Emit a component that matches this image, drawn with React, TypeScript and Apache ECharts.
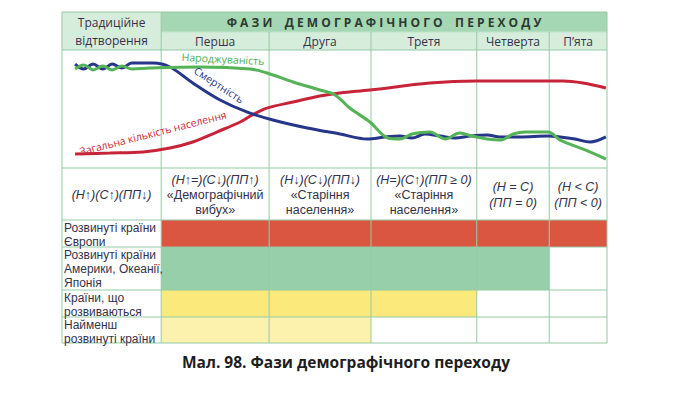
import React, { useEffect, useRef } from 'react';
import * as echarts from 'echarts';

// ---------- data ----------
const phaseNames = ['Перша', 'Друга', 'Третя', 'Четверта', 'П’ята'];
// time axis (0..100) boundaries: traditional reproduction, then phases 1..5
const phaseEdges = [0, 18.2, 38.0, 56.7, 76.1, 89.4, 100];

const birthRate: [number, number][] = [
  [2.4, 83.9], [4.0, 87.3], [5.7, 83.1], [7.5, 86.4], [9.2, 83.1], [11.0, 86.4], [12.8, 83.9],
  [16.1, 84.7], [25.3, 85.6], [34.5, 83.9], [37.6, 80.5], [42.4, 72.9], [47.3, 66.1], [50.1, 61.9],
  [52.8, 50.8], [56.5, 39.0], [59.8, 25.4], [62.0, 24.6], [64.2, 28.8], [67.5, 30.5], [70.3, 24.6],
  [73.0, 29.7], [75.2, 27.1], [78.0, 24.6], [80.4, 23.7], [82.8, 28.8], [85.0, 30.5], [89.2, 30.5],
  [91.4, 23.7], [96.0, 15.3], [99.8, 7.6],
];
const deathRate: [number, number][] = [
  [2.4, 88.1], [4.0, 83.9], [5.7, 88.1], [7.5, 83.9], [9.2, 88.1], [11.0, 84.7], [12.8, 89.0],
  [16.7, 89.0], [19.8, 85.6], [24.0, 72.0], [29.0, 57.6], [33.9, 47.5], [38.7, 40.7], [45.0, 33.9],
  [51.0, 28.8], [56.0, 24.6], [59.3, 26.3], [62.0, 27.1], [64.2, 25.4], [66.6, 28.8], [69.4, 27.1],
  [72.1, 25.4], [74.9, 27.1], [78.0, 28.0], [80.4, 26.3], [84.0, 26.3], [89.2, 27.1], [91.4, 26.3],
  [94.1, 24.6], [96.9, 22.0], [99.8, 26.3],
];
const population: [number, number][] = [
  [2.4, 11.9], [8.8, 12.7], [14.9, 13.6], [19.8, 16.9], [24.0, 22.0], [28.4, 30.5], [32.7, 39.0],
  [34.9, 44.9], [37.6, 50.8], [42.4, 55.9], [47.3, 61.0], [51.0, 63.6], [56.5, 66.1], [67.5, 72.0],
  [76.1, 73.7], [91.9, 73.7], [95.6, 72.0], [99.8, 67.8],
];

const groupLabels = [
  ['Розвинуті країни', 'Європи'],
  ['Розвинуті країни', 'Америки, Океанії,', 'Японія'],
  ['Країни, що', 'розвиваються'],
  ['Найменш', 'розвинуті країни'],
];
const groupReach = [5, 4, 3, 2]; // phases reached by each group
const formulas = [
  ['(Н↑)(С↑)(ПП↓)'],
  ['(Н↑=)(С↓)(ПП↑)', '«Демографічний', 'вибух»'],
  ['(Н↓)(С↓)(ПП↓)', '«Старіння', 'населення»'],
  ['(Н=)(С↑)(ПП ≥ 0)', '«Старіння', 'населення»'],
  ['(Н = С)', '(ПП = 0)'],
  ['(Н < С)', '(ПП < 0)'],
];

// ---------- layout / styles ----------
const L = 62, W = 545, R = L + W;
const Y_TOP = 12, Y_BAND = 32, Y_SUB = 50, Y_CURVE = 168, Y_FORM = 220, Y_END = 343;
const rowEdges = [0, 27, 70, 97, 123]; // body rows, in body-grid units (height 123)
const groupColors = ['#da5641', '#96cfaa', '#fbe97c', '#fcf2ad'];
const lineColor = '#96c9a5';
const FONT = '"Open Sans", "Noto Sans", sans-serif';
const BFONT = '"Liberation Sans", Arial, sans-serif';
const TXT = '#34324a';

const xPix = (v: number) => L + (v / 100) * W;

export default function App() {
  const ref = useRef<HTMLDivElement>(null);
  useEffect(() => {
    if (!ref.current) return;
    const chart = echarts.init(ref.current, null, { renderer: 'svg' });

    const graphics: any[] = [];
    // header backgrounds
    graphics.push({ type: 'rect', z: 1, shape: { x: L, y: Y_TOP, width: xPix(phaseEdges[1]) - L, height: Y_SUB - Y_TOP }, style: { fill: '#d7eddb' } });
    graphics.push({ type: 'rect', z: 1, shape: { x: xPix(phaseEdges[1]), y: Y_TOP, width: R - xPix(phaseEdges[1]), height: Y_BAND - Y_TOP }, style: { fill: '#a6d7b4' } });
    graphics.push({ type: 'rect', z: 1, shape: { x: xPix(phaseEdges[1]), y: Y_BAND, width: R - xPix(phaseEdges[1]), height: Y_SUB - Y_BAND }, style: { fill: '#d7eddb' } });

    // horizontal lines
    const bodyY = rowEdges.map((r) => Y_FORM + r);
    [Y_TOP, Y_SUB, Y_CURVE, ...bodyY].forEach((y) => {
      graphics.push({ type: 'line', z: 50, shape: { x1: L, y1: y, x2: R, y2: y }, style: { stroke: lineColor, lineWidth: 1 } });
    });
    graphics.push({ type: 'line', z: 50, shape: { x1: xPix(phaseEdges[1]), y1: Y_BAND, x2: R, y2: Y_BAND }, style: { stroke: '#bfe3c8', lineWidth: 1 } });
    // vertical lines
    phaseEdges.forEach((e, i) => {
      const top = i === 0 || i === 1 || i === phaseEdges.length - 1 ? Y_TOP : Y_BAND;
      graphics.push({ type: 'line', z: 50, shape: { x1: xPix(e), y1: top, x2: xPix(e), y2: Y_END }, style: { stroke: lineColor, lineWidth: 1 } });
    });

    // header texts
    const c0 = (L + xPix(phaseEdges[1])) / 2;
    graphics.push({ type: 'text', z: 60, x: c0, y: 22, style: { text: 'Традиційне', font: `12px ${FONT}`, fill: TXT, align: 'center', verticalAlign: 'middle' } });
    graphics.push({ type: 'text', z: 60, x: c0, y: 40, style: { text: 'відтворення', font: `12px ${FONT}`, fill: TXT, align: 'center', verticalAlign: 'middle' } });
    graphics.push({
      type: 'text', z: 60, x: (xPix(phaseEdges[1]) + R) / 2, y: 22,
      style: { text: 'Ф А З И    Д Е М О Г Р А Ф І Ч Н О Г О    П Е Р Е Х О Д У', font: `bold 12px ${FONT}`, fill: '#2c3a31', align: 'center', verticalAlign: 'middle' },
    });
    phaseNames.forEach((n, i) => {
      graphics.push({ type: 'text', z: 60, x: (xPix(phaseEdges[i + 1]) + xPix(phaseEdges[i + 2])) / 2, y: 41, style: { text: n, font: `12px ${FONT}`, fill: TXT, align: 'center', verticalAlign: 'middle' } });
    });

    // formula row
    formulas.forEach((lines, i) => {
      const cx = (xPix(phaseEdges[i]) + xPix(phaseEdges[i + 1])) / 2;
      const lh = lines.length === 2 ? 16 : 15;
      const mid = (Y_CURVE + Y_FORM) / 2 + 1;
      lines.forEach((t, k) => {
        const y = mid + (k - (lines.length - 1) / 2) * lh;
        const isF = t.startsWith('(');
        graphics.push({
          type: 'text', z: 60, x: cx, y,
          style: { text: t, font: `${isF ? 'italic ' : ''}12.5px ${BFONT}`, lineHeight: 14, fill: TXT, align: 'center', verticalAlign: 'middle' },
        });
      });
    });

    // group labels
    groupLabels.forEach((lines, g) => {
      lines.forEach((t, k) => {
        graphics.push({
          type: 'text', z: 60, x: L + 2, y: Y_FORM + rowEdges[g] + 7.5 + k * 14,
          style: { text: t, font: `12px ${BFONT}`, lineHeight: 13.5, fill: TXT, align: 'left', verticalAlign: 'middle' },
        });
      });
    });

    // curve labels
    graphics.push({ type: 'text', z: 70, x: 223, y: 59, rotation: -0.05, style: { text: 'Народжуваність', font: `10.5px ${FONT}`, fill: '#4dae52', align: 'center', verticalAlign: 'middle' } });
    graphics.push({ type: 'text', z: 70, x: 219, y: 85, rotation: -0.58, style: { text: 'Смертність', font: `10.5px ${FONT}`, fill: '#2c3a8a', align: 'center', verticalAlign: 'middle' } });
    graphics.push({ type: 'text', z: 70, x: 153, y: 133, rotation: 0.25, style: { text: 'Загальна кількість населення', font: `10.5px ${FONT}`, fill: '#c8283c', align: 'center', verticalAlign: 'middle' } });

    // caption
    graphics.push({ type: 'text', z: 70, x: 346, y: 362, style: { text: 'Мал. 98. Фази демографічного переходу', font: `bold 15.5px ${FONT}`, fill: '#1e1e1e', align: 'center', verticalAlign: 'middle' } });

    const cellData: any[] = [];
    groupReach.forEach((reach, g) => {
      for (let p = 1; p <= reach; p++) cellData.push([phaseEdges[p], phaseEdges[p + 1], g]);
    });

    const lineSeries = (name: string, data: [number, number][], color: string) => ({
      type: 'line', name, xAxisIndex: 0, yAxisIndex: 0, data, smooth: 0.35, showSymbol: false, symbol: 'none', z: 60,
      lineStyle: { color, width: 3 }, silent: true,
    });

    chart.setOption({
      animation: false,
      backgroundColor: '#ffffff',
      grid: [
        { left: L, top: Y_SUB, width: W, height: Y_CURVE - Y_SUB },
        { left: L, top: Y_FORM, width: W, height: Y_END - Y_FORM },
      ],
      xAxis: [
        { type: 'value', gridIndex: 0, min: 0, max: 100, show: false },
        { type: 'value', gridIndex: 1, min: 0, max: 100, show: false },
      ],
      yAxis: [
        { type: 'value', gridIndex: 0, min: 0, max: 100, show: false },
        { type: 'value', gridIndex: 1, min: 0, max: rowEdges[rowEdges.length - 1], inverse: true, show: false },
      ],
      graphic: { elements: graphics },
      series: [
        {
          type: 'custom', xAxisIndex: 1, yAxisIndex: 1, data: cellData, z: 5, silent: true,
          renderItem: (_p: any, api: any) => {
            const g = api.value(2);
            const a = api.coord([api.value(0), rowEdges[g]]);
            const b = api.coord([api.value(1), rowEdges[g + 1]]);
            return { type: 'rect', shape: { x: a[0], y: a[1], width: b[0] - a[0], height: b[1] - a[1] }, style: { fill: groupColors[g] } };
          },
        },
        lineSeries('Загальна кількість населення', population, '#c7243a'),
        lineSeries('Смертність', deathRate, '#26368a'),
        lineSeries('Народжуваність', birthRate, '#54b257'),
      ],
    });
    return () => chart.dispose();
  }, []);
  return <div ref={ref} style={{ position: 'fixed', left: 0, top: 0, width: 700, height: 394 }} />;
}
